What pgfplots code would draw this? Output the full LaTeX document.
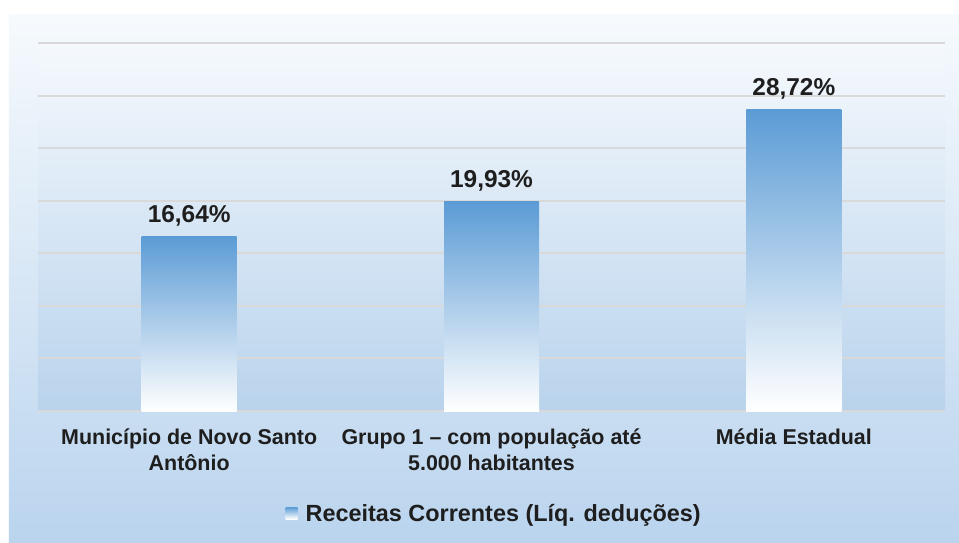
\documentclass[border=0pt]{standalone}
\usepackage{pgfplots}
\pgfplotsset{compat=1.18}
\usepackage{fontspec}
\setmainfont{Liberation Sans}
\definecolor{barblue}{HTML}{5B9BD5}
\definecolor{bgtop}{HTML}{F6FAFD}
\definecolor{bgbot}{HTML}{BAD4EE}
\definecolor{patop}{HTML}{F5F9FD}
\definecolor{pabot}{HTML}{B9D3EC}
\definecolor{gridc}{HTML}{D9D9D9}
\definecolor{txt}{HTML}{1E1E1E}
\begin{document}
\begin{tikzpicture}
\useasboundingbox (-38bp,-132bp) rectangle (921bp,411bp);
\fill[white] (-38bp,-132bp) rectangle (921bp,411bp);
\shade[top color=bgtop,bottom color=bgbot] (-29bp,-132bp) rectangle (921bp,396bp);
\begin{axis}[
  at={(0,0)}, anchor=south west,
  scale only axis, width=907bp, height=368bp,
  xmin=-0.5, xmax=2.5, ymin=0, ymax=35,
  ytick={0,5,...,35}, yticklabels={},
  xtick={0,1,2},
  xticklabels={{Município de Novo Santo\\Antônio},{Grupo 1 -- com população até\\5.000 habitantes},{Média Estadual}},
  xticklabel style={font=\fontsize{21.5}{25.5}\selectfont\bfseries, text=txt, align=center, inner sep=0pt, anchor=north, yshift=-18bp},
  axis line style={draw=none},
  tick style={draw=none},
  ymajorgrids,
  major grid style={draw=gridc, line width=2bp},
  axis background/.style={top color=patop, bottom color=pabot},
  legend style={draw=none, fill=none, at={(rel axis cs:0.503,-0.28)}, anchor=center,
    font=\fontsize{23.5}{27}\selectfont\bfseries, text=txt,
    /tikz/every odd column/.append style={column sep=6bp}},
  barstyle/.style={ybar, bar width=95bp, bar shift=0pt, draw=none, top color=barblue, bottom color=white,
    nodes near coords, point meta=explicit symbolic,
    every node near coord/.append style={font=\fontsize{24.5}{28}\selectfont\bfseries, text=txt, inner sep=0pt, yshift=10bp}},
]
\addplot[barstyle,
  legend image code/.code={\shade[top color=barblue,bottom color=white] (0bp,-5bp) rectangle (12bp,7bp);}]
  coordinates {(0,16.64) [{16,64\%}]};
\addlegendentry{Receitas Correntes (Líq. deduções)}
\addplot[barstyle, forget plot] coordinates {(1,19.93) [{19,93\%}]};
\addplot[barstyle, forget plot] coordinates {(2,28.72) [{28,72\%}]};
\end{axis}
\end{tikzpicture}
\end{document}
